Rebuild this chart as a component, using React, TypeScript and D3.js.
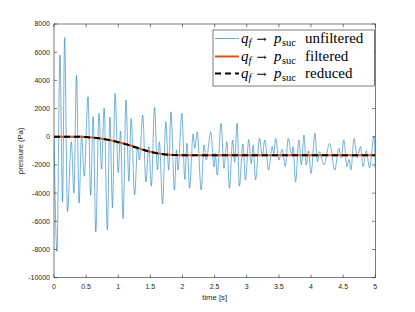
import React, { useRef, useEffect } from "react";
import * as d3 from "d3";

// unfiltered signal: local peaks/troughs (time [s], pressure [Pa])
const rawTime = [
  0, 0.047, 0.093, 0.133, 0.165, 0.21, 0.27, 0.31, 0.35, 0.39, 0.43, 0.47, 0.53,
  0.57, 0.61, 0.65, 0.7, 0.74, 0.78, 0.83, 0.87, 0.91, 0.95, 1.0, 1.035, 1.075,
  1.12, 1.165, 1.2, 1.255, 1.3, 1.33, 1.38, 1.43, 1.475, 1.515, 1.565, 1.61,
  1.64, 1.69, 1.74, 1.785, 1.82, 1.875, 1.905, 1.93, 1.99, 2.035, 2.07, 2.11,
  2.165, 2.19, 2.23, 2.29, 2.335, 2.37, 2.44, 2.49, 2.51, 2.54, 2.6, 2.645,
  2.69, 2.73, 2.78, 2.81, 2.85, 2.885, 2.94, 2.98, 3.03, 3.07, 3.1, 3.135, 3.2,
  3.24, 3.28, 3.34, 3.395, 3.42, 3.45, 3.5, 3.55, 3.6, 3.645, 3.7, 3.72, 3.76,
  3.81, 3.85, 3.89, 3.925, 3.96, 4.0, 4.06, 4.1, 4.13, 4.2, 4.29, 4.37, 4.43,
  4.47, 4.51, 4.56, 4.59, 4.62, 4.67, 4.72, 4.77, 4.81, 4.86, 4.91, 4.98, 5.0,
];
const rawPressure = [
  0, -8150, 5800, -4600, 7030, -5300, -350, -4000, 4370, -4700, 100, -2800,
  2840, -4150, 1420, -6750, 1670, -2300, 2020, -6600, 1400, -5030, 3080, -2550,
  380, -5800, 2600, -3150, 1300, -4130, -700, -1650, 1540, -3190, -700, -3500,
  2080, -2360, -350, -4770, 1060, -2360, 1770, -3780, -940, -2360, 1660, -3020,
  -470, -3660, 190, -820, 350, -3780, -590, -1650, 350, -2130, -1180, -2720,
  950, -2240, -350, -3660, -230, -1800, 950, -3500, -520, -3070, -200, -1900,
  -600, -3070, -120, -1400, -230, -2360, -700, -1200, -120, -1650, -900, -2100,
  -120, -1300, -700, -3190, -230, -2000, 120, -2000, -1000, -2600, 240, -1770,
  -1060, -2000, -470, -2360, -820, -1500, -230, -2130, -1600, -2360, -120,
  -1500, -700, -2130, -1000, -2200, 0, -2240,
];

// filtered and reduced responses
const smoothTime = [
  0, 0.1, 0.2, 0.3, 0.4, 0.5, 0.6, 0.7, 0.8, 0.9, 1.0, 1.1, 1.2, 1.3, 1.4, 1.5,
  1.6, 1.7, 1.8, 1.9, 2.0, 2.5, 3.0, 3.5, 4.0, 4.5, 5.0,
];
const filteredPressure = [
  0, 0, 0, 5, 0, -20, -60, -110, -180, -270, -380, -500, -640, -790, -940,
  -1070, -1170, -1240, -1280, -1300, -1310, -1320, -1320, -1320, -1320, -1320,
  -1320,
];
const reducedPressure = [
  0, 0, 0, 0, -5, -25, -65, -115, -185, -275, -385, -505, -645, -795, -945,
  -1075, -1175, -1240, -1280, -1300, -1310, -1320, -1320, -1320, -1320, -1320,
  -1320,
];

const xTicks = [0, 0.5, 1, 1.5, 2, 2.5, 3, 3.5, 4, 4.5, 5];
const yTicks = [-10000, -8000, -6000, -4000, -2000, 0, 2000, 4000, 6000, 8000];

const legendLabels = ["unfiltered", "filtered", "reduced"];

const W = 415;
const H = 312;
const AX = "#262626";

const App = () => {
  const svgRef = useRef<SVGSVGElement>(null);

  useEffect(() => {
    const svg = d3.select(svgRef.current);
    svg.selectAll("*").remove();

    const left = 54;
    const right = 375.3;
    const top = 24;
    const bottom = 277.7;

    const x = d3.scaleLinear().domain([0, 5]).range([left, right]);
    const y = d3.scaleLinear().domain([-10000, 8000]).range([bottom, top]);

    svg.append("rect").attr("width", W).attr("height", H).attr("fill", "#fff");

    svg
      .append("clipPath")
      .attr("id", "plotclip")
      .append("rect")
      .attr("x", left)
      .attr("y", top)
      .attr("width", right - left)
      .attr("height", bottom - top);

    const plot = svg.append("g").attr("clip-path", "url(#plotclip)");

    const rawData = rawTime.map((t, i) => [t, rawPressure[i]] as [number, number]);
    const filtData = smoothTime.map((t, i) => [t, filteredPressure[i]] as [number, number]);
    const redData = smoothTime.map((t, i) => [t, reducedPressure[i]] as [number, number]);

    const line = d3
      .line<[number, number]>()
      .x((d) => x(d[0]))
      .y((d) => y(d[1]))
      .curve(d3.curveMonotoneX);

    plot
      .append("path")
      .attr("d", line(rawData))
      .attr("fill", "none")
      .attr("stroke", "#0072BD")
      .attr("stroke-width", 0.55);

    plot
      .append("path")
      .attr("d", line(filtData))
      .attr("fill", "none")
      .attr("stroke", "#D95319")
      .attr("stroke-width", 2);

    plot
      .append("path")
      .attr("d", line(redData))
      .attr("fill", "none")
      .attr("stroke", "#000")
      .attr("stroke-width", 2)
      .attr("stroke-dasharray", "6,4");

    // axes box + inward ticks
    const axes = svg.append("g");
    axes
      .append("rect")
      .attr("x", left)
      .attr("y", top)
      .attr("width", right - left)
      .attr("height", bottom - top)
      .attr("fill", "none")
      .attr("stroke", AX)
      .attr("stroke-width", 0.6);

    const tl = 3.2;
    xTicks.forEach((t) => {
      axes
        .append("line")
        .attr("x1", x(t)).attr("x2", x(t))
        .attr("y1", bottom).attr("y2", bottom - tl)
        .attr("stroke", AX).attr("stroke-width", 0.6);
      axes
        .append("line")
        .attr("x1", x(t)).attr("x2", x(t))
        .attr("y1", top).attr("y2", top + tl)
        .attr("stroke", AX).attr("stroke-width", 0.6);
      axes
        .append("text")
        .attr("x", x(t))
        .attr("y", bottom + 11)
        .attr("text-anchor", "middle")
        .attr("font-family", "Liberation Sans, Arial, sans-serif")
        .attr("font-size", 7)
        .attr("fill", AX)
        .text(String(t));
    });
    yTicks.forEach((v) => {
      axes
        .append("line")
        .attr("x1", left).attr("x2", left + tl)
        .attr("y1", y(v)).attr("y2", y(v))
        .attr("stroke", AX).attr("stroke-width", 0.6);
      axes
        .append("line")
        .attr("x1", right).attr("x2", right - tl)
        .attr("y1", y(v)).attr("y2", y(v))
        .attr("stroke", AX).attr("stroke-width", 0.6);
      axes
        .append("text")
        .attr("x", left - 4)
        .attr("y", y(v))
        .attr("dy", "0.35em")
        .attr("text-anchor", "end")
        .attr("font-family", "Liberation Sans, Arial, sans-serif")
        .attr("font-size", 7)
        .attr("fill", AX)
        .text(String(v));
    });

    axes
      .append("text")
      .attr("x", (left + right) / 2)
      .attr("y", 299.5)
      .attr("text-anchor", "middle")
      .attr("font-family", "Liberation Sans, Arial, sans-serif")
      .attr("font-size", 7.7)
      .attr("fill", AX)
      .text("time [s]");

    axes
      .append("text")
      .attr("transform", `translate(23,${(top + bottom) / 2}) rotate(-90)`)
      .attr("text-anchor", "middle")
      .attr("font-family", "Liberation Sans, Arial, sans-serif")
      .attr("font-size", 7.7)
      .attr("fill", AX)
      .text("pressure (Pa)");

    // legend
    const lg = svg.append("g");
    lg.append("rect")
      .attr("x", 213)
      .attr("y", 30)
      .attr("width", 161.5)
      .attr("height", 56)
      .attr("fill", "#fff")
      .attr("stroke", AX)
      .attr("stroke-width", 0.6);

    const rows = [38.5, 56.5, 73.5];
    const styles = [
      { c: "#0072BD", w: 0.6, dash: null },
      { c: "#D95319", w: 2, dash: null },
      { c: "#000", w: 2, dash: "6,4" },
    ];
    const serif = "Liberation Serif, Times New Roman, serif";
    rows.forEach((ry, i) => {
      const s = styles[i];
      const ln = lg
        .append("line")
        .attr("x1", 215).attr("x2", 239)
        .attr("y1", ry).attr("y2", ry)
        .attr("stroke", s.c).attr("stroke-width", s.w);
      if (s.dash) ln.attr("stroke-dasharray", s.dash);

      const t = lg
        .append("text")
        .attr("y", ry + 4.5)
        .attr("font-family", serif)
        .attr("font-size", 15)
        .attr("fill", "#000");
      t.append("tspan").attr("x", 241).attr("font-style", "italic").text("q");
      t.append("tspan").attr("x", 248.5).attr("dy", 2.5).attr("font-style", "italic").attr("font-size", 10.5).text("f");
      t.append("tspan").attr("x", 256.5).attr("dy", -2.5).attr("font-family", "DejaVu Serif, serif").attr("font-size", 12).text("→");
      t.append("tspan").attr("x", 274).attr("font-style", "italic").text("p");
      t.append("tspan").attr("x", 282).attr("dy", 2.5).attr("font-size", 10.5).text("suc");
      t.append("tspan").attr("x", 305).attr("dy", -2.5).text(legendLabels[i]);
    });
  }, []);

  return (
    <svg
      ref={svgRef}
      width={W}
      height={H}
      style={{ position: "absolute", left: 0, top: 0 }}
    ></svg>
  );
};

export default App;
